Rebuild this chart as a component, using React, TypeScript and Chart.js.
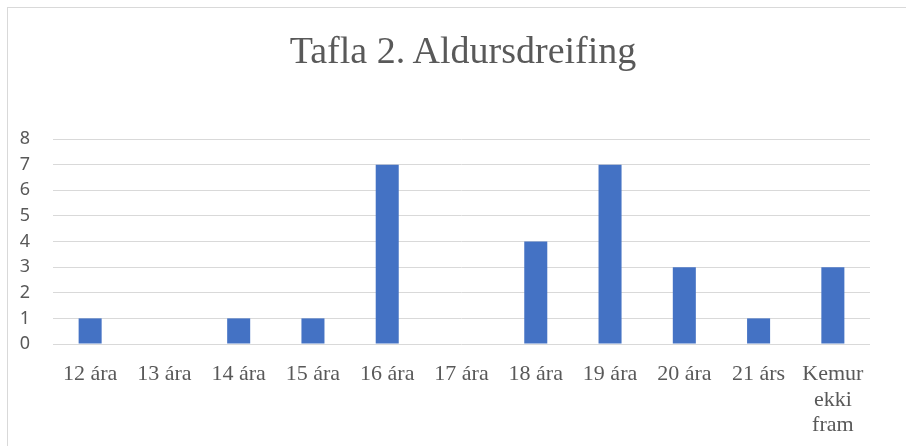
import React, { useEffect, useRef } from "react";
import { Chart, registerables } from "chart.js";

Chart.register(...registerables);

const categories: (string | string[])[] = [
  "12 ára",
  "13 ára",
  "14 ára",
  "15 ára",
  "16 ára",
  "17 ára",
  "18 ára",
  "19 ára",
  "20 ára",
  "21 árs",
  ["Kemur", "ekki", "fram"],
];
const counts: number[] = [1, 0, 1, 1, 7, 0, 4, 7, 3, 1, 3];
const yTicks = { min: 0, max: 8, step: 1 };
const titleText = "Tafla 2. Aldursdreifing";

const SERIF = "'Liberation Serif', 'Times New Roman', serif";
const SANS = "'Noto Sans', 'Open Sans', sans-serif";

export default function App() {
  const ref = useRef<HTMLCanvasElement | null>(null);

  useEffect(() => {
    if (!ref.current) return;
    const chart = new Chart(ref.current, {
      type: "bar",
      data: {
        labels: categories,
        datasets: [
          {
            data: counts,
            backgroundColor: "#4472C4",
            borderWidth: 0,
            categoryPercentage: 1,
            barPercentage: 0.31,
          },
        ],
      },
      options: {
        responsive: false,
        animation: false,
        devicePixelRatio: 1,
        layout: { padding: { left: 0, right: 36, top: 139, bottom: 0 } },
        plugins: {
          legend: { display: false },
          tooltip: { enabled: false },
          title: { display: false },
        },
        scales: {
          x: {
            grid: { display: false, drawTicks: false },
            border: { display: false },
            ticks: {
              color: "#595959",
              font: { family: SERIF, size: 22, lineHeight: 1.15 },
              padding: 18,
              maxRotation: 0,
              minRotation: 0,
              autoSkip: false,
            },
            afterFit: (scale: any) => {
              scale.height = 102;
            },
          },
          y: {
            min: yTicks.min,
            max: yTicks.max,
            grid: { color: "#d9d9d9", lineWidth: 1, drawTicks: false },
            border: { display: false },
            ticks: {
              stepSize: yTicks.step,
              color: "#595959",
              font: { family: SANS, size: 18 },
              padding: 23,
            },
            afterFit: (scale: any) => {
              scale.width = 53;
            },
          },
        },
      },
    });
    return () => chart.destroy();
  }, []);

  return (
    <div
      style={{
        position: "fixed",
        left: 0,
        top: 0,
        width: 906,
        height: 446,
        overflow: "hidden",
        background: "#ffffff",
      }}
    >
      <div
        style={{
          position: "absolute",
          left: 7,
          top: 7,
          width: 940,
          height: 480,
          border: "1px solid #d9d9d9",
          boxSizing: "border-box",
        }}
      />
      <canvas
        ref={ref}
        width={906}
        height={446}
        style={{ position: "absolute", left: 0, top: 0 }}
      />
      <div
        style={{
          position: "absolute",
          left: 463,
          top: 31,
          transform: "translateX(-50%)",
          whiteSpace: "nowrap",
          fontFamily: SERIF,
          fontSize: 38,
          lineHeight: "38px",
          color: "#595959",
        }}
      >
        {titleText}
      </div>
    </div>
  );
}
